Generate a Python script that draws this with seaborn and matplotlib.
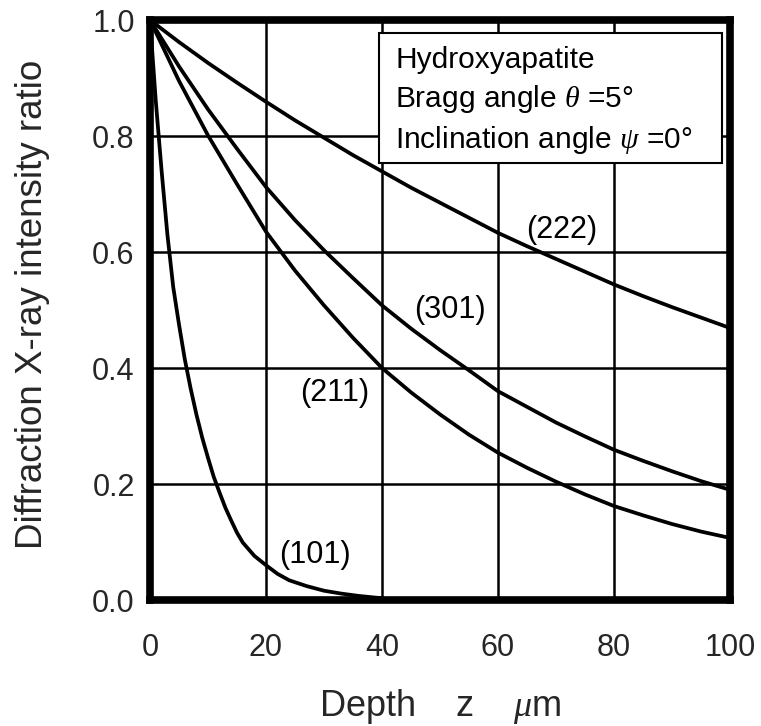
import matplotlib
matplotlib.use("Agg")
import matplotlib.pyplot as plt
import seaborn as sns
import pandas as pd
from matplotlib.patches import Rectangle

# ---- data ----
x_main = [0, 5, 10, 15, 20, 25, 30, 35, 40, 45, 50, 55, 60, 65, 70, 75, 80, 85, 90, 95, 100]
y_222 = [1.0, 0.962, 0.926, 0.892, 0.859, 0.827, 0.797, 0.767, 0.739, 0.711, 0.685, 0.659,
         0.633, 0.610, 0.588, 0.566, 0.544, 0.524, 0.505, 0.487, 0.469]
y_301 = [1.0, 0.92, 0.846, 0.778, 0.712, 0.655, 0.603, 0.555, 0.508, 0.468, 0.431, 0.396,
         0.360, 0.333, 0.306, 0.282, 0.259, 0.240, 0.222, 0.205, 0.190]
y_211 = [1.0, 0.895, 0.801, 0.717, 0.635, 0.568, 0.508, 0.452, 0.400, 0.358, 0.320, 0.285,
         0.254, 0.228, 0.204, 0.182, 0.162, 0.146, 0.131, 0.118, 0.107]
x_101 = [0, 1, 2, 3, 4, 5, 6, 7, 8, 9, 10, 11, 12, 13, 14, 15, 16, 18, 20, 22, 24, 27, 30,
         33, 36, 40]
y_101 = [1.0, 0.86, 0.74, 0.63, 0.54, 0.475, 0.415, 0.365, 0.32, 0.28, 0.245, 0.212, 0.185,
         0.159, 0.137, 0.116, 0.099, 0.076, 0.060, 0.045, 0.034, 0.024, 0.016, 0.011,
         0.007, 0.003]
series_names = ["(222)", "(301)", "(211)", "(101)"]
label_pos_x = [71, 51.7, 31.9, 28.4]
label_pos_y = [0.638, 0.50, 0.357, 0.078]
x_ticks = [0, 20, 40, 60, 80, 100]
y_ticks = [0.0, 0.2, 0.4, 0.6, 0.8, 1.0]
legend_lines = ["Hydroxyapatite",
                r"Bragg angle $\theta$ =5°",
                r"Inclination angle $\psi$ =0°"]

frames = []
for name, xs, ys in [("(222)", x_main, y_222), ("(301)", x_main, y_301),
                     ("(211)", x_main, y_211), ("(101)", x_101, y_101)]:
    frames.append(pd.DataFrame({"depth": xs, "ratio": ys, "plane": name}))
df = pd.concat(frames, ignore_index=True)

sns.set_theme(style="white")
plt.rcParams["font.family"] = ["Liberation Sans", "DejaVu Sans"]
plt.rcParams["mathtext.fontset"] = "custom"
plt.rcParams["mathtext.rm"] = "Liberation Sans"
plt.rcParams["mathtext.it"] = "Liberation Serif:italic"

fig = plt.figure(figsize=(7.61, 7.26), dpi=100)
ax = fig.add_axes([150 / 761, 126 / 726, 580 / 761, 580 / 726])

sns.lineplot(data=df, x="depth", y="ratio", hue="plane", hue_order=series_names,
             palette=["black"] * 4, sort=False, estimator=None, linewidth=2.7,
             legend=False, ax=ax)

ax.set_xlim(0, 100)
ax.set_ylim(0, 1.0)
ax.set_xticks(x_ticks)
ax.set_yticks(y_ticks)
ax.set_xticklabels([str(v) for v in x_ticks], fontsize=22)
ax.set_yticklabels([f"{v:.1f}" for v in y_ticks], fontsize=22)
ax.tick_params(axis="x", length=0, pad=24)
ax.tick_params(axis="y", length=0, pad=11)

ax.grid(True, color="black", linewidth=1.8)
ax.set_axisbelow(True)
for sp in ax.spines.values():
    sp.set_color("black")
    sp.set_linewidth(5.5)
    sp.set_visible(True)

ax.set_xlabel(r"Depth    z    $\mu$m", fontsize=26)
ax.xaxis.set_label_coords(0.5, (600 - 707) / 580)
ax.xaxis.label.set_va("center")
ax.set_ylabel("Diffraction X-ray intensity ratio", fontsize=26.5)
ax.yaxis.set_label_coords((33 - 150) / 580, 0.509)
ax.yaxis.label.set_va("center")

for name, lx, ly in zip(series_names, label_pos_x, label_pos_y):
    ax.text(lx, ly, name, fontsize=22, ha="center", va="center", color="black")

# annotation box
x0 = (379 - 150) / 580
x1 = (722 - 150) / 580
yt = (600 - 33) / 580
yb = (600 - 163) / 580
ax.add_patch(Rectangle((x0, yb), x1 - x0, yt - yb, transform=ax.transAxes,
                       facecolor="white", edgecolor="black", linewidth=1.5, zorder=5))
tx = (395 - 150) / 580
for line, by in zip(legend_lines, [68, 107, 148]):
    ax.text(tx, (600 - by) / 580, line, transform=ax.transAxes, fontsize=21.5,
            ha="left", va="baseline", color="black", zorder=6)

fig.savefig("out.png", dpi=100)
